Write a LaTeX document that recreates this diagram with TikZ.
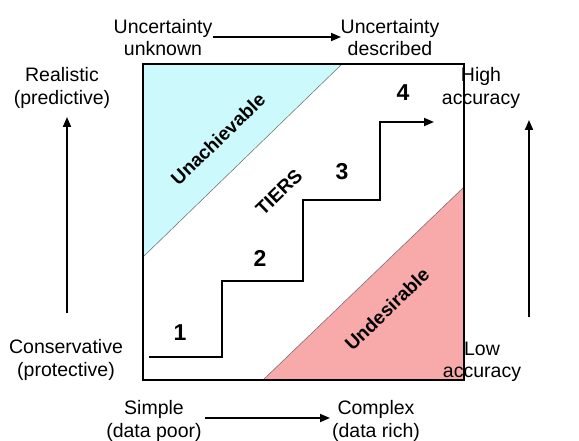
\documentclass[tikz,border=0pt]{standalone}
\usepackage{fontspec}
\setmainfont{Liberation Sans}
\usetikzlibrary{arrows.meta}
\definecolor{cyanfill}{HTML}{CCFAFC}
\definecolor{pinkfill}{HTML}{F8AAAA}
\tikzset{
  lbl/.style={align=center, inner sep=0pt, font=\fontsize{19.5}{22.5}\selectfont},
  num/.style={inner sep=0pt, font=\fontsize{23}{26}\selectfont\bfseries},
  diag/.style={inner sep=0pt, rotate=44, font=\fontsize{19}{22}\selectfont\bfseries},
  arr/.style={line width=1.8pt, -{Triangle[length=10pt,width=8pt]}},
  region/.style={draw=gray!80!black, line width=0.5pt},
}
\begin{document}
\begin{tikzpicture}[x=1pt,y=-1pt]
\useasboundingbox (0,0) rectangle (579,441);
% regions
\fill[cyanfill] (143,64) -- (342,64) -- (143,257) -- cycle;
\draw[region] (342,64) -- (143,257);
\fill[pinkfill] (263,380) -- (464,380) -- (464,187) -- cycle;
\draw[region] (263,380) -- (464,187);
\node[draw, line width=1.2pt, minimum width=321pt, minimum height=316pt, inner sep=0pt] (sq) at (303.5,222) {};
% staircase
\coordinate (s0) at (149,357);
\coordinate (s1) at (222,357);
\coordinate (s2) at (222,281);
\coordinate (s3) at (303,281);
\coordinate (s4) at (303,200);
\coordinate (s5) at (380,200);
\coordinate (s6) at (380,122);
\coordinate (s7) at (434,122);
\draw[arr] (s0) -- (s1) -- (s2) -- (s3) -- (s4) -- (s5) -- (s6) -- (s7);
% numbers
\node[num] (n1) at (180,333) {1};
\node[num] (n2) at (260,258) {2};
\node[num] (n3) at (342,172) {3};
\node[num] (n4) at (403,93) {4};
% diagonal labels
\node[diag] (una) at (218,139) {Unachievable};
\node[diag] (tiers) at (279,192) {TIERS};
\node[diag] (und) at (387,309) {Undesirable};
% top
\node[lbl] (unk) at (163,37.5) {Uncertainty\\unknown};
\node[lbl] (desc) at (390,37.5) {Uncertainty\\described};
\coordinate (ta) at (213,37);
\coordinate (tb) at (341,37);
\draw[arr] (ta) -- (tb);
% left
\node[lbl] (real) at (62,88) {Realistic\\(predictive)};
\node[lbl] (cons) at (66,360) {Conservative\\(protective)};
\coordinate (la) at (67,313);
\coordinate (lb) at (67,117);
\draw[arr] (la) -- (lb);
% right
\node[lbl] (high) at (481,88) {High\\accuracy};
\node[lbl] (low) at (482,362) {Low\\accuracy};
\coordinate (ra) at (529,317);
\coordinate (rb) at (529,120);
\draw[arr] (ra) -- (rb);
% bottom
\node[lbl] (simp) at (154,421) {Simple\\(data poor)};
\node[lbl] (comp) at (376,421) {Complex\\(data rich)};
\coordinate (ba) at (205,418);
\coordinate (bb) at (330,418);
\draw[arr] (ba) -- (bb);
\end{tikzpicture}
\end{document}
